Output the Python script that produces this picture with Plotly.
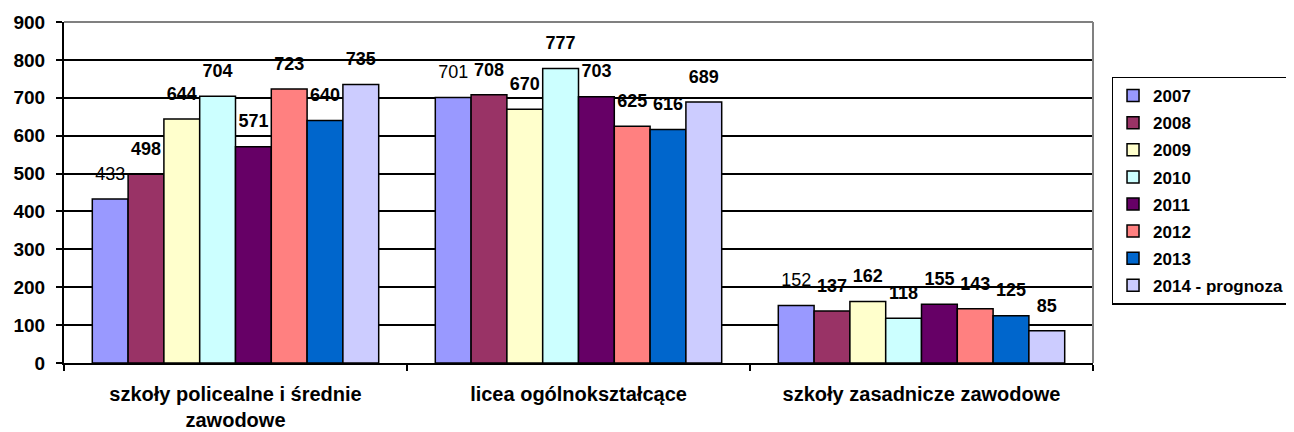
import plotly.graph_objects as go

categories = ["szkoły policealne i średnie<br>zawodowe", "licea ogólnokształcące", "szkoły zasadnicze zawodowe"]
series_names = ["2007", "2008", "2009", "2010", "2011", "2012", "2013", "2014 - prognoza"]
values_2007 = [433, 701, 152]
values_2008 = [498, 708, 137]
values_2009 = [644, 670, 162]
values_2010 = [704, 777, 118]
values_2011 = [571, 703, 155]
values_2012 = [723, 625, 143]
values_2013 = [640, 616, 125]
values_2014 = [735, 689, 85]
series_values = [values_2007, values_2008, values_2009, values_2010,
                 values_2011, values_2012, values_2013, values_2014]
colors = ["#9999FF", "#993366", "#FFFFCC", "#CCFFFF", "#660066", "#FF8080", "#0066CC", "#CCCCFF"]
y_ticks = [0, 100, 200, 300, 400, 500, 600, 700, 800, 900]

FONT = "Liberation Sans, Arial, sans-serif"

fig = go.Figure()
for i, (name, vals, col) in enumerate(zip(series_names, series_values, colors)):
    fig.add_trace(go.Bar(
        name=name,
        x=categories,
        y=vals,
        offsetgroup=str(i),
        marker=dict(color=col, line=dict(color="black", width=1.5)),
        legendgroup=name,
        hoverinfo="skip",
    ))

# value labels placed a bit above each bar (grouped with the bars)
for i, (name, vals) in enumerate(zip(series_names, series_values)):
    bold = i != 0
    fig.add_trace(go.Scatter(
        x=categories,
        y=vals,
        offsetgroup=str(i),
        mode="text+markers",
        marker=dict(size=22, color="rgba(0,0,0,0)"),
        text=[(f"<b>{v}</b>" if bold else str(v)) for v in vals],
        textposition="top center",
        textfont=dict(family=FONT, size=18, color="black"),
        showlegend=False,
        cliponaxis=False,
        hoverinfo="skip",
    ))

fig.update_layout(
    width=1286, height=424,
    margin=dict(l=56, r=201, t=14, b=69, autoexpand=False),
    paper_bgcolor="white", plot_bgcolor="white",
    barmode="group", bargap=0.165, bargroupgap=0,
    scattermode="group", scattergap=0.165,
    font=dict(family=FONT, color="black"),
    showlegend=True,
    legend=dict(
        x=1.018, y=0.84, xanchor="left", yanchor="top",
        bordercolor="black", borderwidth=1.5,
        font=dict(family=FONT, size=17, color="black", weight="bold"),
        tracegroupgap=2, itemwidth=30,
    ),
    xaxis=dict(
        showline=True, linecolor="black", linewidth=2,
        ticks="outside", tickson="boundaries", ticklen=6, tickwidth=2, tickcolor="black",
        showgrid=False, ticklabelstandoff=12,
        tickfont=dict(family=FONT, size=20, color="black", weight="bold"),
    ),
    yaxis=dict(
        range=[0, 900], tickvals=y_ticks,
        showline=True, linecolor="black", linewidth=2,
        ticks="outside", ticklen=6, tickcolor="black", tickwidth=2,
        showgrid=True, gridcolor="black", gridwidth=1.5,
        zeroline=False, ticklabelstandoff=7,
        tickfont=dict(family=FONT, size=19, color="black", weight="bold"),
    ),
    shapes=[
        dict(type="line", xref="paper", yref="paper", x0=0, x1=1, y0=1, y1=1,
             line=dict(color="#808080", width=2)),
        dict(type="line", xref="paper", yref="paper", x0=1, x1=1, y0=0, y1=1,
             line=dict(color="#808080", width=2)),
    ],
)

fig.write_html("out.html")
